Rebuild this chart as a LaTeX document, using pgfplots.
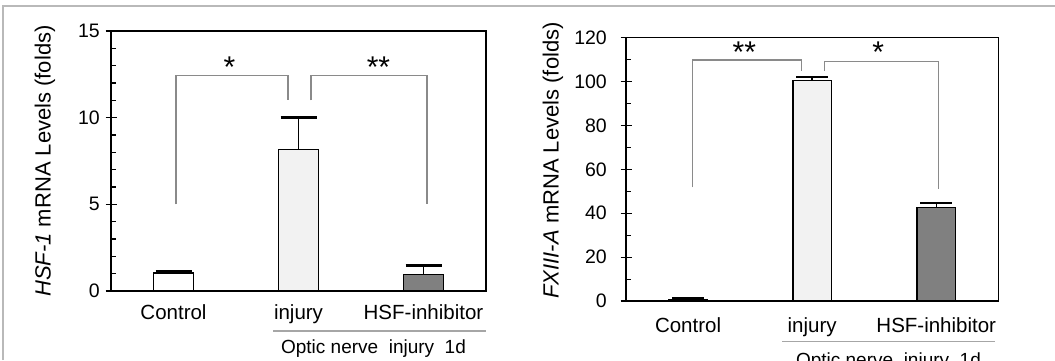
\documentclass[border=0pt]{standalone}
\usepackage{fontspec}
\setmainfont{Liberation Sans}
\usepackage{pgfplots}
\pgfplotsset{compat=1.18}
\definecolor{injgray}{HTML}{F2F2F2}
\definecolor{hsfgray}{HTML}{808080}
\definecolor{brk}{HTML}{8A8A8A}
\tikzset{starlbl/.style={anchor=base, inner sep=0pt, font=\fontsize{30}{34}\selectfont}}
\pgfplotsset{
  myaxis/.style={
    scale only axis, clip=false,
    xmin=-0.5, xmax=2.5, ymin=0,
    axis line style={line width=1.3pt, black},
    xtick={0,1,2}, xticklabels={Control,injury,HSF-inhibitor},
    xtick style={draw=none},
    ytick pos=left,
    tick align=inside,
    major tick length=11pt, minor tick length=5pt,
    every major tick/.append style={xshift=-5.5pt},
    ytick style={line width=1.1pt, black},
    /pgf/number format/assume math mode=true,
    yticklabel style={font=\fontsize{19.5}{22}\selectfont, inner sep=0pt},
    xticklabel style={font=\fontsize{20.5}{24}\selectfont, anchor=base, inner sep=0pt},
    every axis y label/.style={rotate=90, anchor=center, font=\fontsize{22}{26}\selectfont},
  },
  mybar/.style={ybar, bar shift=0pt, draw=black, line width=1.5pt,
    error bars/y dir=plus, error bars/y explicit,
    error bars/error bar style={line width=1.5pt, black}},
}
\begin{document}
\begin{tikzpicture}
\useasboundingbox (0,-360pt) rectangle (1055pt,0pt);
\draw[gray!55, line width=1.3pt] (3pt,-360pt) -- (3pt,-6pt) -- (1055pt,-6pt);

% ---------------- left panel ----------------
\begin{axis}[myaxis,
  at={(111pt,-291pt)}, anchor=south west,
  width=375pt, height=260pt,
  ymax=15, ytick={0,5,10,15}, minor y tick num=4,
  yticklabel style={xshift=-11pt},
  xticklabel style={yshift=-28.3pt},
  ylabel={\textit{HSF-1} mRNA Levels (folds)},
  every axis y label/.append style={at={(axis description cs:-0.176,0.5)}},
]
\addplot[mybar, bar width=40pt, fill=white, error bars/error mark options={rotate=90, mark size=18pt, line width=2.6pt, black}] coordinates {(0,1.05) +- (0,0.10)};
\addplot[mybar, bar width=40pt, fill=injgray, error bars/error mark options={rotate=90, mark size=18pt, line width=2.6pt, black}] coordinates {(1,8.15) +- (0,1.85)};
\addplot[mybar, bar width=40pt, fill=hsfgray, error bars/error mark options={rotate=90, mark size=18pt, line width=2.6pt, black}] coordinates {(2,0.94) +- (0,0.54)};
\draw[brk, line width=1.2pt] (axis cs:0.02,5) -- (axis cs:0.02,12.45) -- (axis cs:0.916,12.45) -- (axis cs:0.916,11.0);
\draw[brk, line width=1.2pt] (axis cs:1.1,11.0) -- (axis cs:1.1,12.45) -- (axis cs:2.028,12.45) -- (axis cs:2.028,5);
\node[starlbl] at (axis cs:0.448,12.3) {*};
\node[starlbl] at (axis cs:1.64,12.3) {**};
\draw[gray!70, line width=1.1pt] (axis cs:0.798,-2.31) -- (axis cs:2.5,-2.31);
\node[anchor=base, inner sep=0pt, font=\fontsize{19}{22}\selectfont] at (axis cs:1.6,-3.6) {Optic nerve\ \ injury\ \ 1d};
\end{axis}

% ---------------- right panel ----------------
\begin{axis}[myaxis,
  at={(626pt,-301pt)}, anchor=south west,
  width=372.3pt, height=263.3pt,
  ymax=120, ytick={0,20,...,120}, minor y tick num=1,
  yticklabel style={xshift=-19pt},
  xticklabel style={yshift=-31.7pt},
  ylabel={\textit{FXIII-A} mRNA Levels (folds)},
  every axis y label/.append style={at={(axis description cs:-0.196,0.534)}},
]
\addplot[mybar, bar width=38.7pt, fill=white, error bars/error mark options={rotate=90, mark size=16pt, line width=2.2pt, black}] coordinates {(0,0.7) +- (0,0.4)};
\addplot[mybar, bar width=38.7pt, fill=injgray, error bars/error mark options={rotate=90, mark size=16pt, line width=2.2pt, black}] coordinates {(1,100.6) +- (0,1.6)};
\addplot[mybar, bar width=38.7pt, fill=hsfgray, error bars/error mark options={rotate=90, mark size=16pt, line width=2.2pt, black}] coordinates {(2,42.7) +- (0,2.1)};
\draw[brk, line width=1.2pt] (axis cs:0.037,51.8) -- (axis cs:0.037,109.8) -- (axis cs:0.911,109.8) -- (axis cs:0.911,105);
\draw[brk, line width=1.2pt] (axis cs:1.1,105) -- (axis cs:1.1,109.2) -- (axis cs:2.02,109.2) -- (axis cs:2.02,50.9);
\node[starlbl] at (axis cs:0.454,108.8) {**};
\node[starlbl] at (axis cs:1.532,108.6) {*};
\draw[gray!70, line width=1.1pt] (axis cs:0.758,-18.5) -- (axis cs:2.47,-18.5);
\node[anchor=base, inner sep=0pt, font=\fontsize{19}{22}\selectfont] at (axis cs:1.615,-29.9) {Optic nerve\ \ injury\ \ 1d};
\end{axis}
\end{tikzpicture}
\end{document}
